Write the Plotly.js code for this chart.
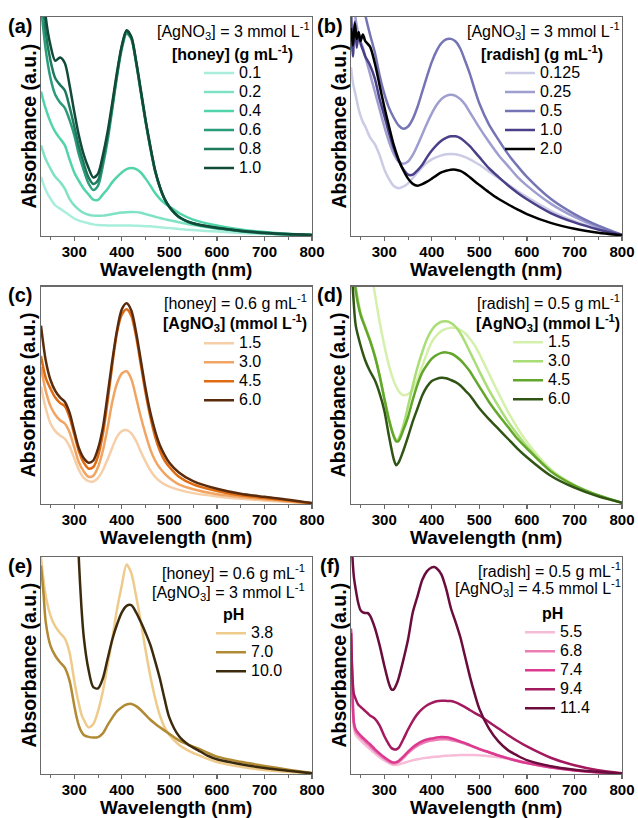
<!DOCTYPE html>
<html><head><meta charset="utf-8">
<script src="https://cdn.plot.ly/plotly-3.0.1.min.js"></script>
<style>html,body{margin:0;padding:0;background:#fff;}#chart{width:638px;height:818px;}</style>
</head><body><div id="chart"></div>
<script>
// ---------------- DATA ----------------
// (a) honey concentration series, AgNO3 = 3 mmol/L
const wlA = [230,240,250,260,270,280,290,300,310,320,330,340,350,360,370,380,390,400,410,420,430,440,450,460,470,480,490,500,520,550,600,650,700,750,800];
const honeyConc = ['0.1','0.2','0.4','0.6','0.8','1.0'];
const a_01 = [0.27,0.21,0.17,0.14,0.125,0.11,0.095,0.08,0.07,0.064,0.058,0.053,0.05,0.049,0.048,0.048,0.048,0.048,0.048,0.048,0.047,0.046,0.045,0.044,0.042,0.04,0.038,0.036,0.032,0.027,0.02,0.014,0.01,0.006,0.003];
const a_02 = [0.414,0.35,0.307,0.27,0.247,0.216,0.17,0.14,0.12,0.105,0.097,0.093,0.092,0.093,0.096,0.10,0.104,0.107,0.109,0.11,0.109,0.106,0.10,0.094,0.088,0.082,0.077,0.072,0.063,0.05,0.033,0.022,0.013,0.007,0.004];
const a_04 = [0.66,0.58,0.52,0.475,0.445,0.415,0.35,0.29,0.25,0.216,0.19,0.166,0.165,0.19,0.215,0.246,0.27,0.29,0.305,0.31,0.305,0.29,0.262,0.23,0.196,0.17,0.15,0.135,0.105,0.075,0.048,0.03,0.018,0.01,0.005];
const a_06 = [1.05,0.85,0.72,0.645,0.61,0.585,0.53,0.46,0.37,0.30,0.24,0.21,0.23,0.32,0.435,0.58,0.73,0.855,0.925,0.90,0.79,0.655,0.52,0.40,0.295,0.222,0.167,0.131,0.086,0.056,0.036,0.022,0.013,0.007,0.004];
const a_08 = [1.2,0.93,0.80,0.72,0.69,0.665,0.59,0.50,0.405,0.33,0.268,0.238,0.255,0.345,0.455,0.595,0.74,0.865,0.935,0.905,0.795,0.66,0.525,0.405,0.298,0.223,0.168,0.132,0.087,0.057,0.037,0.023,0.014,0.008,0.004];
const a_10 = [1.3,1.0,0.87,0.80,0.815,0.79,0.69,0.566,0.455,0.37,0.31,0.267,0.285,0.368,0.475,0.61,0.75,0.87,0.94,0.91,0.80,0.667,0.53,0.41,0.30,0.225,0.17,0.134,0.088,0.058,0.038,0.024,0.015,0.009,0.005];

// (b) radish concentration series, AgNO3 = 3 mmol/L
const wlB = [230,234,238,242,246,250,255,260,270,280,290,300,310,320,330,340,350,360,370,380,390,400,410,420,430,440,450,460,470,480,490,500,520,540,560,580,600,650,700,750,800];
const radishConc = ['0.125','0.25','0.5','1.0','2.0'];
const b_0125 = [0.77,0.70,0.66,0.62,0.58,0.55,0.52,0.50,0.45,0.42,0.37,0.305,0.26,0.228,0.218,0.225,0.24,0.265,0.29,0.315,0.335,0.35,0.36,0.368,0.373,0.375,0.373,0.368,0.36,0.35,0.338,0.325,0.295,0.265,0.235,0.205,0.178,0.115,0.068,0.032,0.005];
const b_025 = [1.2,1.1,1.02,0.96,0.92,0.89,0.86,0.82,0.74,0.66,0.58,0.50,0.43,0.375,0.34,0.33,0.34,0.37,0.415,0.465,0.515,0.56,0.598,0.625,0.64,0.645,0.64,0.625,0.60,0.565,0.53,0.495,0.43,0.37,0.32,0.27,0.23,0.148,0.087,0.04,0.005];
const b_05 = [1.4,1.35,1.3,1.25,1.2,1.15,1.08,1.01,0.92,0.84,0.735,0.65,0.585,0.54,0.505,0.49,0.50,0.535,0.59,0.66,0.73,0.795,0.845,0.88,0.898,0.90,0.888,0.855,0.80,0.74,0.67,0.605,0.51,0.44,0.375,0.32,0.27,0.17,0.10,0.047,0.005];
const b_10 = [1.05,0.82,0.98,0.86,0.93,0.88,0.85,0.82,0.78,0.72,0.627,0.55,0.47,0.40,0.345,0.305,0.28,0.28,0.30,0.325,0.36,0.39,0.415,0.435,0.448,0.455,0.455,0.447,0.43,0.41,0.385,0.36,0.31,0.27,0.232,0.198,0.168,0.105,0.062,0.03,0.005];
const b_20 = [0.95,0.87,0.97,0.90,0.93,0.89,0.92,0.89,0.865,0.79,0.69,0.59,0.50,0.415,0.35,0.30,0.262,0.238,0.23,0.237,0.248,0.262,0.277,0.29,0.298,0.303,0.303,0.297,0.285,0.268,0.25,0.233,0.20,0.17,0.145,0.122,0.10,0.06,0.033,0.015,0.003];

// (c) AgNO3 series, honey = 0.6 g/mL
const wlC = [230,240,250,260,270,280,290,300,310,320,330,340,350,360,370,380,390,400,410,420,430,440,450,460,470,480,490,500,520,550,600,650,700,750,800];
const agConc = ['1.5','3.0','4.5','6.0'];
const c_15 = [0.54,0.44,0.37,0.335,0.315,0.30,0.265,0.21,0.155,0.12,0.105,0.103,0.12,0.155,0.205,0.26,0.31,0.335,0.34,0.325,0.29,0.24,0.195,0.155,0.125,0.105,0.09,0.08,0.065,0.05,0.035,0.024,0.016,0.009,0.002];
const c_30 = [0.63,0.52,0.45,0.41,0.385,0.37,0.33,0.26,0.19,0.15,0.125,0.13,0.17,0.245,0.35,0.47,0.555,0.60,0.61,0.575,0.49,0.40,0.32,0.25,0.20,0.165,0.14,0.12,0.09,0.068,0.045,0.032,0.022,0.012,0.003];
const c_45 = [0.68,0.58,0.53,0.49,0.465,0.45,0.40,0.32,0.24,0.19,0.163,0.17,0.22,0.32,0.47,0.64,0.79,0.87,0.895,0.865,0.77,0.64,0.51,0.40,0.31,0.245,0.20,0.17,0.125,0.09,0.06,0.04,0.028,0.016,0.003];
const c_60 = [0.82,0.66,0.57,0.52,0.49,0.47,0.42,0.335,0.255,0.21,0.19,0.20,0.255,0.35,0.50,0.66,0.80,0.895,0.923,0.89,0.79,0.66,0.53,0.42,0.335,0.27,0.225,0.19,0.145,0.105,0.07,0.047,0.033,0.02,0.004];

// (d) AgNO3 series, radish = 0.5 g/mL
const wlD = [230,235,240,250,260,270,280,290,300,310,320,325,330,340,350,360,370,380,390,400,410,420,430,440,450,460,470,480,490,500,520,540,560,580,600,650,700,750,800];
const d_15 = [1.8,1.65,1.55,1.4,1.25,1.1,0.97,0.84,0.73,0.635,0.565,0.54,0.52,0.50,0.505,0.525,0.575,0.635,0.695,0.745,0.775,0.795,0.805,0.81,0.81,0.80,0.785,0.76,0.73,0.69,0.60,0.51,0.425,0.35,0.285,0.16,0.082,0.035,0.006];
const d_30 = [1.3,1.1,1.0,0.88,0.815,0.755,0.685,0.595,0.49,0.39,0.315,0.295,0.30,0.36,0.45,0.545,0.63,0.70,0.76,0.80,0.825,0.838,0.84,0.833,0.815,0.785,0.745,0.70,0.655,0.61,0.525,0.45,0.38,0.32,0.265,0.155,0.087,0.04,0.006];
const d_45 = [1.3,1.1,0.98,0.87,0.81,0.75,0.68,0.59,0.485,0.385,0.31,0.288,0.29,0.34,0.40,0.48,0.55,0.605,0.64,0.668,0.685,0.695,0.697,0.692,0.68,0.662,0.638,0.61,0.575,0.54,0.47,0.41,0.355,0.30,0.255,0.15,0.085,0.04,0.006];
const d_60 = [1.15,0.95,0.82,0.73,0.66,0.61,0.57,0.51,0.43,0.31,0.205,0.178,0.19,0.245,0.31,0.38,0.44,0.50,0.54,0.565,0.575,0.58,0.578,0.57,0.56,0.545,0.522,0.50,0.47,0.44,0.39,0.345,0.30,0.255,0.215,0.13,0.075,0.035,0.006];

// (e) pH series, honey
const wlE = [230,235,240,250,260,270,280,290,300,305,310,315,320,330,340,350,360,370,380,390,400,410,420,430,440,450,460,470,480,490,500,520,540,560,580,600,650,700,750,800];
const pHhoney = ['3.8','7.0','10.0'];
const e_38 = [1.0,0.90,0.82,0.73,0.68,0.65,0.625,0.56,0.43,0.37,0.32,0.275,0.25,0.215,0.23,0.29,0.38,0.50,0.625,0.76,0.87,0.965,0.925,0.82,0.70,0.57,0.45,0.35,0.27,0.215,0.18,0.135,0.108,0.088,0.07,0.055,0.033,0.018,0.009,0.003];
const e_70 = [0.96,0.84,0.70,0.59,0.545,0.515,0.49,0.43,0.315,0.26,0.22,0.195,0.18,0.171,0.168,0.17,0.187,0.225,0.26,0.29,0.308,0.32,0.323,0.313,0.295,0.272,0.25,0.232,0.215,0.2,0.185,0.155,0.135,0.118,0.098,0.08,0.056,0.037,0.02,0.004];
const e_100 = [null,null,null,null,null,null,null,null,1.7,1.25,0.97,0.77,0.63,0.48,0.40,0.395,0.44,0.53,0.62,0.69,0.745,0.775,0.778,0.745,0.70,0.65,0.595,0.52,0.44,0.345,0.26,0.175,0.135,0.11,0.085,0.068,0.045,0.028,0.015,0.003];

// (f) pH series, radish
const wlF = [230,233,236,240,245,250,255,260,265,270,280,290,300,310,315,320,325,330,340,350,360,370,380,390,400,405,410,420,430,440,450,460,470,480,490,500,520,540,560,580,600,650,700,750,800];
const pHradish = ['5.5','6.8','7.4','9.4','11.4'];
const f_55 = [0.65,0.37,0.21,0.18,0.166,0.155,0.144,0.134,0.124,0.115,0.095,0.077,0.062,0.05,0.045,0.042,0.042,0.044,0.05,0.057,0.063,0.068,0.072,0.075,0.078,0.079,0.08,0.082,0.084,0.085,0.086,0.087,0.087,0.087,0.087,0.086,0.082,0.077,0.07,0.062,0.054,0.034,0.018,0.008,0.002];
const f_68 = [0.66,0.39,0.23,0.195,0.181,0.169,0.158,0.148,0.138,0.128,0.107,0.088,0.071,0.057,0.051,0.048,0.05,0.055,0.074,0.096,0.115,0.13,0.141,0.149,0.154,0.156,0.158,0.16,0.16,0.157,0.152,0.146,0.139,0.131,0.123,0.115,0.10,0.086,0.073,0.061,0.051,0.031,0.017,0.008,0.002];
const f_74 = [0.67,0.40,0.24,0.205,0.19,0.178,0.167,0.157,0.147,0.137,0.115,0.095,0.077,0.062,0.056,0.053,0.055,0.06,0.08,0.103,0.123,0.139,0.151,0.159,0.164,0.166,0.168,0.17,0.169,0.165,0.158,0.15,0.142,0.133,0.124,0.115,0.10,0.085,0.072,0.06,0.05,0.03,0.016,0.007,0.002];
const f_94 = [0.65,0.45,0.37,0.345,0.32,0.31,0.30,0.29,0.28,0.27,0.255,0.224,0.175,0.135,0.12,0.114,0.113,0.12,0.16,0.205,0.245,0.277,0.30,0.317,0.328,0.332,0.335,0.337,0.337,0.336,0.33,0.32,0.308,0.295,0.282,0.27,0.24,0.21,0.18,0.152,0.127,0.075,0.04,0.017,0.003];
const f_114 = [1.15,1.0,0.91,0.85,0.79,0.755,0.745,0.742,0.742,0.73,0.675,0.595,0.50,0.415,0.39,0.39,0.41,0.44,0.525,0.62,0.745,0.82,0.895,0.935,0.952,0.954,0.948,0.92,0.854,0.765,0.70,0.63,0.54,0.45,0.37,0.30,0.21,0.15,0.11,0.085,0.064,0.036,0.02,0.01,0.002];

// ---------------- STYLE / LAYOUT ----------------
const W = 638, H = 818;
const FONT = 'Liberation Sans, Arial, Helvetica, sans-serif';
const panels = [
  {wl: wlA, ys: [a_01,a_02,a_04,a_06,a_08,a_10], names: honeyConc,
   colors: ['#a9eedc','#80e2c4','#52d4aa','#2b9c7a','#1d7a5d','#114a39']},
  {wl: wlB, ys: [b_0125,b_025,b_05,b_10,b_20], names: radishConc,
   colors: ['#cbcbe6','#9e9ed0','#7575b6','#4a4088','#000000']},
  {wl: wlC, ys: [c_15,c_30,c_45,c_60], names: agConc,
   colors: ['#f6cfa8','#f2a462','#df6b12','#5a2b0c']},
  {wl: wlD, ys: [d_15,d_30,d_45,d_60], names: agConc,
   colors: ['#d5f0ab','#a9de76','#62a62a','#2f5414']},
  {wl: wlE, ys: [e_38,e_70,e_100], names: pHhoney,
   colors: ['#efcb8b','#b18a34','#3c2a0d']},
  {wl: wlF, ys: [f_55,f_68,f_74,f_94,f_114], names: pHradish,
   colors: ['#f6bcd8','#eb7fb4','#db3a90','#a2195e','#6a0c3c']}
];
const colX = [[41,312],[351,622]];
const rowY = [[17,236],[286.5,504],[557,774]];
const legendPos = [[199,58.5],[500,58.5],[199,328.7],[508,327.7],[211,618.7],[520,617.7]];

const traces = [];
const layout = {
  width: W, height: H, margin: {l:0,r:0,t:0,b:0},
  paper_bgcolor: '#fff', plot_bgcolor: '#fff',
  font: {family: FONT, color: '#000'},
  showlegend: true, annotations: []
};
const px = x => x / W, py = y => 1 - y / H;

panels.forEach((p, i) => {
  const sfx = i === 0 ? '' : String(i + 1);
  const col = i % 2, row = Math.floor(i / 2);
  p.ys.forEach((y, j) => {
    traces.push({
      x: p.wl, y: y, type: 'scatter', mode: 'lines',
      name: '<span style="font-size:16px">' + p.names[j] + '</span>',
      line: {color: p.colors[j], width: 2.5, shape: 'spline', smoothing: 0.8},
      xaxis: 'x' + sfx, yaxis: 'y' + sfx, legend: 'legend' + sfx,
      hoverinfo: 'skip'
    });
  });
  layout['xaxis' + sfx] = {
    domain: [px(colX[col][0]), px(colX[col][1])], range: [230, 800], anchor: 'y' + sfx,
    showline: true, mirror: true, linecolor: '#6a6a6a', linewidth: 1.2,
    ticks: 'outside', ticklen: 4, tickwidth: 1.2, tickcolor: '#6a6a6a',
    tick0: 0, dtick: 100, ticklabelstandoff: -2,
    minor: {tick0: 0, dtick: 50, ticks: 'outside', ticklen: 2.5, tickwidth: 1, tickcolor: '#6a6a6a', showgrid: false},
    showgrid: false, zeroline: false, fixedrange: true,
    tickfont: {family: FONT, size: 15, color: '#000', weight: 'bold'}
  };
  layout['yaxis' + sfx] = {
    domain: [py(rowY[row][1]), py(rowY[row][0])], range: [0, 1], anchor: 'x' + sfx,
    showline: true, mirror: true, linecolor: '#6a6a6a', linewidth: 1.2,
    ticks: '', showticklabels: false, showgrid: false, zeroline: false, fixedrange: true
  };
  layout['legend' + sfx] = {
    x: px(legendPos[i][0]), y: py(legendPos[i][1]), xanchor: 'left', yanchor: 'top',
    bgcolor: 'rgba(0,0,0,0)', borderwidth: 0, tracegroupgap: 0,
    font: {family: FONT, size: 12, color: '#000'}
  };
  // axis titles
  const cx = (colX[col][0] + colX[col][1]) / 2;
  const cy = (rowY[row][0] + rowY[row][1]) / 2;
  layout.annotations.push({text: 'Wavelength (nm)', x: px(cx), y: py(rowY[row][1] + 33.5), xref: 'paper', yref: 'paper',
    xanchor: 'center', yanchor: 'middle', showarrow: false, borderpad: 0, borderwidth: 0,
    font: {family: FONT, size: 19, weight: 'bold', color: '#000'}});
  layout.annotations.push({text: 'Absorbance (a.u.)', x: px(colX[col][0] - 13), y: py(cy), xref: 'paper', yref: 'paper',
    xanchor: 'center', yanchor: 'middle', textangle: -90, showarrow: false, borderpad: 0, borderwidth: 0,
    font: {family: FONT, size: 19.5, weight: 'bold', color: '#000'}});
  layout.annotations.push({text: '(' + 'abcdef'[i] + ')', x: px(colX[col][0] - 21), y: py(rowY[row][0] + 8.5), xref: 'paper', yref: 'paper',
    xanchor: 'center', yanchor: 'middle', showarrow: false, borderpad: 0, borderwidth: 0,
    font: {family: FONT, size: 20, weight: 'bold', color: '#000'}});
});

// condition labels
const info = [
  ['[AgNO<sub>3</sub>] = 3 mmol L<sup>-1</sup>', 310, 31.5, false, 'right'],
  ['[honey] (g mL<sup>-1</sup>)', 293, 53.5, true, 'right'],
  ['[AgNO<sub>3</sub>] = 3 mmol L<sup>-1</sup>', 620, 31.5, false, 'right'],
  ['[radish] (g mL<sup>-1</sup>)', 603, 53, true, 'right'],
  ['[honey] = 0.6 g mL<sup>-1</sup>', 307, 302, false, 'right'],
  ['[AgNO<sub>3</sub>] (mmol L<sup>-1</sup>)', 307, 323, true, 'right'],
  ['[radish] = 0.5 g mL<sup>-1</sup>', 620, 302, false, 'right'],
  ['[AgNO<sub>3</sub>] (mmol L<sup>-1</sup>)', 620, 323, true, 'right'],
  ['[honey] = 0.6 g mL<sup>-1</sup>', 305, 572, false, 'right'],
  ['[AgNO<sub>3</sub>] = 3 mmol L<sup>-1</sup>', 305, 592, false, 'right'],
  ['pH', 233, 614, true, 'center'],
  ['[radish] = 0.5 g mL<sup>-1</sup>', 621, 570, false, 'right'],
  ['[AgNO<sub>3</sub>] = 4.5 mmol L<sup>-1</sup>', 621, 588, false, 'right'],
  ['pH', 552, 613, true, 'center']
];
info.forEach(t => layout.annotations.push({
  text: t[0], x: px(t[1]), y: py(t[2]), xref: 'paper', yref: 'paper', xanchor: t[4], yanchor: 'middle',
  showarrow: false, borderpad: 0, borderwidth: 0,
  font: {family: FONT, size: 16, color: '#000', weight: t[3] ? 'bold' : 'normal'}
}));

Plotly.newPlot('chart', traces, layout, {displayModeBar: false, staticPlot: true});
</script></body></html>
